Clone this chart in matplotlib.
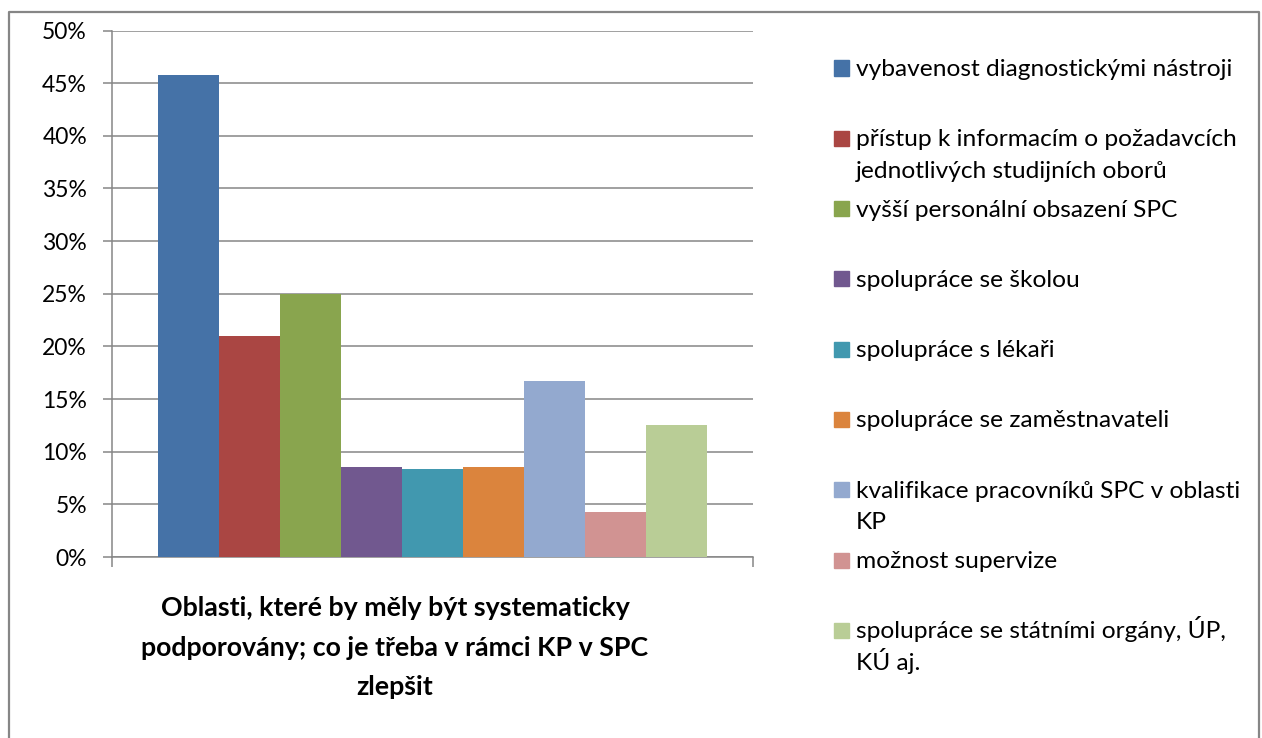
import matplotlib
matplotlib.use("Agg")
import matplotlib.pyplot as plt
from matplotlib.patches import Rectangle
from matplotlib.lines import Line2D
from matplotlib.ticker import FuncFormatter, MultipleLocator

# ---- data ----
labels = [
    "vybavenost diagnostickými nástroji",
    "přístup k informacím o požadavcích\njednotlivých studijních oborů",
    "vyšší personální obsazení SPC",
    "spolupráce se školou",
    "spolupráce s lékaři",
    "spolupráce se zaměstnavateli",
    "kvalifikace pracovníků SPC v oblasti\nKP",
    "možnost supervize",
    "spolupráce se státními orgány, ÚP,\nKÚ aj.",
]
values = [45.8, 21.0, 25.0, 8.5, 8.35, 8.5, 16.7, 4.25, 12.5]
colors = ["#4572A7", "#AA4643", "#89A54E", "#71588F", "#4198AF",
          "#DB843D", "#93A9CF", "#D19392", "#B9CD96"]
title_lines = ["Oblasti, které by měly být systematicky",
               "podporovány; co je třeba v rámci KP v SPC",
               "zlepšit"]
yticks = [0, 5, 10, 15, 20, 25, 30, 35, 40, 45, 50]

FAM = ["Lato", "DejaVu Sans"]
plt.rcParams["font.family"] = FAM

W, H, DPI = 1262, 738, 100
fig = plt.figure(figsize=(W / DPI, H / DPI), dpi=DPI)
renderer = fig.canvas.get_renderer()

def px_x(x):
    return x / W

def px_y(y):
    return 1 - y / H

def fit_size(text, target_px, weight="normal"):
    t = fig.text(0, 0, text, fontsize=10, weight=weight)
    w = t.get_window_extent(renderer).width
    t.remove()
    return 10 * target_px / w

tick_fs = fit_size("50%", 45)
leg_fs = fit_size(labels[0], 377)
title_fs = fit_size(title_lines[0], 470, weight="bold")

GRAY = "#868686"

# border (bottom edge cut off)
fig.add_artist(Line2D([px_x(9), px_x(9), px_x(1259), px_x(1259)],
                      [0, px_y(12), px_y(12), 0],
                      transform=fig.transFigure, color=GRAY, lw=1.6))

ax = fig.add_axes([px_x(112), px_y(557), px_x(753 - 112), (557 - 30.5) / H])
x = list(range(len(values)))
ax.bar(x, values, width=1.0, color=colors, zorder=3)
ax.set_xlim(-1.25, len(values) - 1 + 1.25)
ax.set_ylim(0, 50)
ax.set_yticks(yticks)
ax.yaxis.set_major_formatter(FuncFormatter(lambda v, p: f"{v:.0f}%"))
ax.set_xticks([-1.25, len(values) - 1 + 1.25])
ax.set_xticklabels([])
ax.grid(axis="y", color=GRAY, lw=1.1, zorder=0)
ax.set_axisbelow(True)
for s in ["top", "right"]:
    ax.spines[s].set_visible(False)
for s in ["left", "bottom"]:
    ax.spines[s].set_color(GRAY)
    ax.spines[s].set_linewidth(1.1)
ax.tick_params(axis="y", length=6.5, width=1.1, color=GRAY, pad=11.5,
               labelsize=tick_fs, labelcolor="black")
ax.tick_params(axis="x", length=7, width=1.1, color=GRAY)

# title below the axes
title_base = [616, 655.5, 695]
for line, yb in zip(title_lines, title_base):
    fig.text(px_x(395), px_y(yb), line, ha="center", va="baseline",
             fontsize=title_fs, weight="bold", color="black")

# legend drawn manually
for i, (lab, col) in enumerate(zip(labels, colors)):
    yc = 68 + 70.3 * i
    fig.add_artist(Rectangle((px_x(834), px_y(yc + 7.5)), 15 / W, 15 / H,
                             transform=fig.transFigure, color=col))
    for j, line in enumerate(lab.split("\n")):
        fig.text(px_x(856), px_y(yc + 8 + 31.5 * j), line, ha="left",
                 va="baseline", fontsize=leg_fs, color="black")

fig.savefig("out.png", dpi=DPI, facecolor="white")
